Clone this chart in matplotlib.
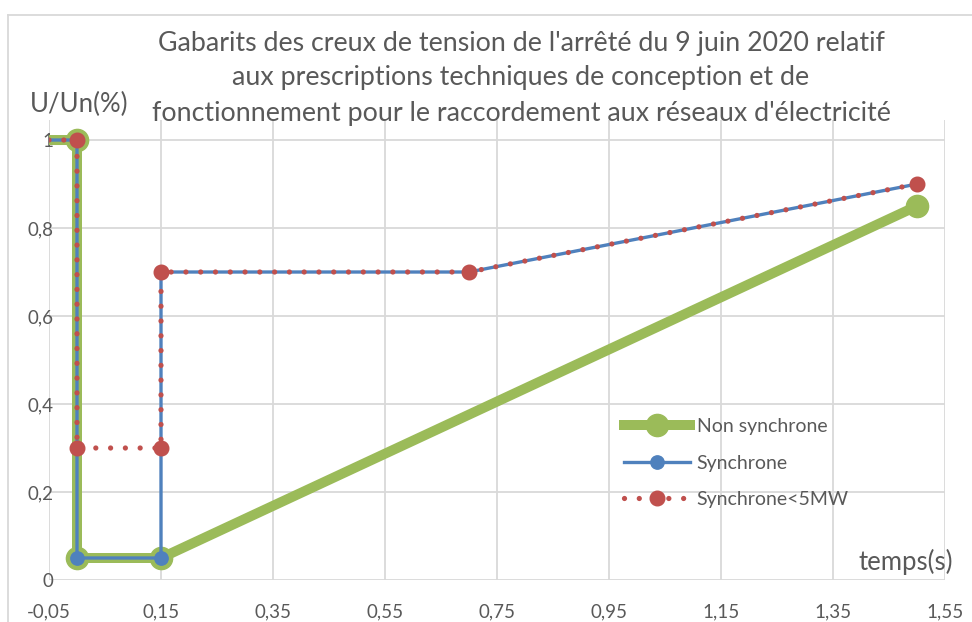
import matplotlib
matplotlib.use("Agg")
import matplotlib.pyplot as plt
from matplotlib.lines import Line2D
from matplotlib.ticker import FuncFormatter

plt.rcParams['font.family'] = ['Lato', 'DejaVu Sans']

# Data (time in s, U/Un)
t_non_sync = [-0.05, 0, 0, 0.15, 1.5]
u_non_sync = [1, 1, 0.05, 0.05, 0.85]

t_sync = [-0.05, 0, 0, 0.15, 0.15, 0.7, 1.5]
u_sync = [1, 1, 0.05, 0.05, 0.7, 0.7, 0.9]

t_sync5 = [-0.05, 0, 0, 0.15, 0.15, 0.7, 1.5]
u_sync5 = [1, 1, 0.3, 0.3, 0.7, 0.7, 0.9]

x_ticks = [-0.05, 0.15, 0.35, 0.55, 0.75, 0.95, 1.15, 1.35, 1.55]
y_ticks = [0, 0.2, 0.4, 0.6, 0.8, 1]

title = ("Gabarits des creux de tension de l'arrêté du 9 juin 2020 relatif\n"
         "aux prescriptions techniques de conception et de\n"
         "fonctionnement pour le raccordement aux réseaux d'électricité")

green = '#9BBB59'
blue = '#4F81BD'
red = '#C0504D'
grid_c = '#D9D9D9'
text_c = '#595959'

W, H = 972, 622
fig = plt.figure(figsize=(W / 100, H / 100), dpi=100)
ax = fig.add_axes([49 / W, 1 - 580 / H, 896 / W, 460 / H])

ax.plot(t_non_sync, u_non_sync, color=green, lw=7.2, marker='o', ms=16,
        markevery=list(range(1, len(t_non_sync))), solid_joinstyle='round',
        label='Non synchrone', zorder=3)
ax.plot(t_sync, u_sync, color=blue, lw=2.4, marker='o', ms=9.6,
        markevery=list(range(1, len(t_sync))), label='Synchrone', zorder=4)
ax.plot(t_sync5, u_sync5, color=red, lw=3.8, linestyle=(0, (0.001, 2.8)),
        dash_capstyle='round', marker='o', ms=10.5,
        markevery=list(range(1, len(t_sync5))), label='Synchrone<5MW', zorder=5)

ax.set_xlim(-0.05, 1.55)
ax.set_ylim(0, 1.0455)
ax.set_xticks(x_ticks)
ax.set_yticks(y_ticks)
ax.xaxis.set_major_formatter(FuncFormatter(lambda v, p: f"{v:.2f}".replace('.', ',')))
ax.yaxis.set_major_formatter(FuncFormatter(
    lambda v, p: '0' if v == 0 else ('1' if abs(v - 1) < 1e-9 else f"{v:.1f}".replace('.', ','))))
ax.grid(True, color=grid_c, lw=1.3)
ax.set_axisbelow(True)
for s in ax.spines.values():
    s.set_visible(False)
ax.tick_params(length=0, labelsize=13.5, labelcolor=text_c)
ax.tick_params(axis='x', pad=17)
ax.tick_params(axis='y', pad=-3)

leg = ax.legend(loc='upper left', bbox_to_anchor=(0.622, 0.39), frameon=False,
                fontsize=14, handlelength=3.4, handletextpad=0.35,
                labelspacing=1.0, labelcolor=text_c)

fig.text(521 / W, 1 - 78 / H, title, ha='center', va='center', fontsize=19.3,
         color=text_c, linespacing=1.5)
fig.text(79 / W, 1 - 104 / H, 'U/Un(%)', ha='center', va='center', fontsize=18.5,
         color=text_c)
fig.text(906 / W, 1 - 562 / H, 'temps(s)', ha='center', va='center', fontsize=18.5,
         color=text_c)

# chart border
fig.add_artist(Line2D([8 / W, 1], [1 - 15 / H, 1 - 15 / H], color=grid_c, lw=1.3))
fig.add_artist(Line2D([8 / W, 8 / W], [0, 1 - 15 / H], color=grid_c, lw=1.3))

fig.savefig('out.png', dpi=100)
